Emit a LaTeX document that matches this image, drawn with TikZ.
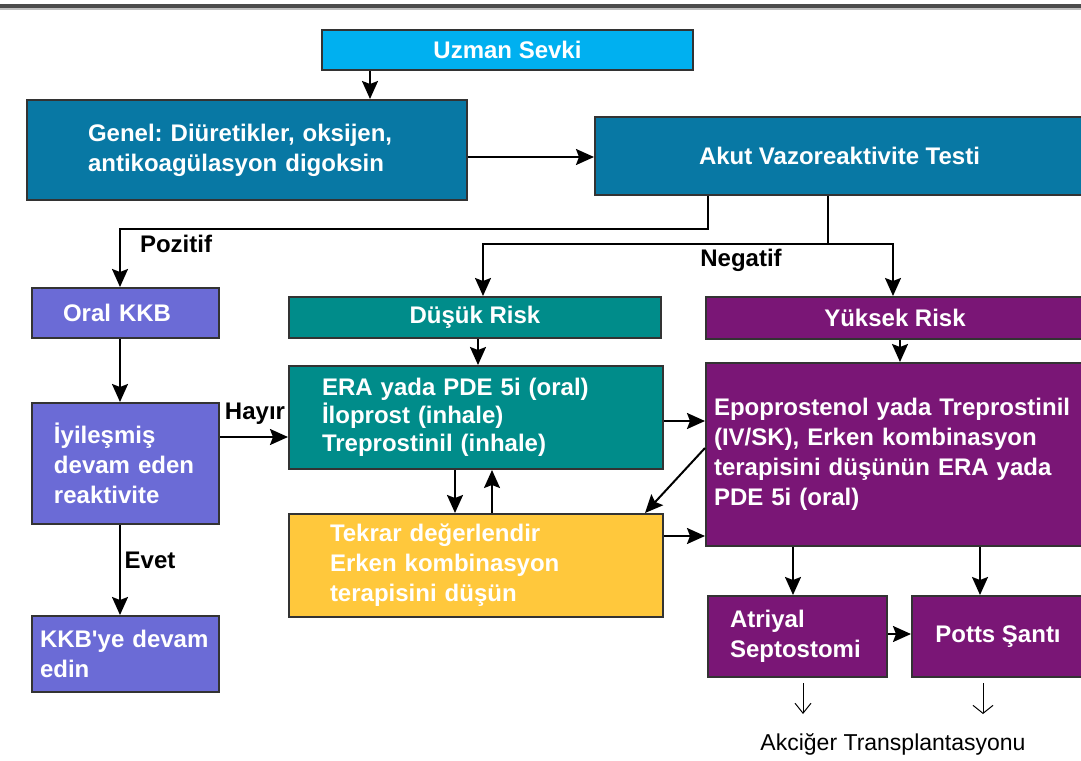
\documentclass[tikz,border=0pt]{standalone}
\usepackage{fontspec}
\setmainfont{Liberation Sans}
\usepackage{xcolor}
\usetikzlibrary{positioning,calc,arrows.meta}
\frenchspacing

\definecolor{uzmanblue}{RGB}{0,176,240}
\definecolor{genelblue}{RGB}{8,120,164}
\definecolor{kkbblue}{RGB}{107,107,214}
\definecolor{riskteal}{RGB}{0,140,138}
\definecolor{tekraryellow}{RGB}{255,200,60}
\definecolor{riskpurple}{RGB}{122,22,118}

\begin{document}
\begin{tikzpicture}[x=0.5pt, y=-0.5pt, auto,
        block/.style={rectangle, draw=black!80, line width=1pt, text=white, align=left, inner ysep=0pt,
            font=\fontsize{12}{15}\selectfont\bfseries},
        line/.style={draw, -{Stealth[length=9pt,width=8pt,inset=1.5pt]}, line width=1pt},
        tag/.style={font=\fontsize{12}{14}\selectfont\bfseries}]
        \useasboundingbox (0,0) rectangle (1081,760);
        \clip (0,0) rectangle (1081,760);
        \draw [line width=2pt, black!70] (0,5.5) -- (1081,5.5);
        \draw [line width=0.6pt, black!25] (0,9) -- (1081,9);

        \node [block, fill=uzmanblue, minimum width=185.5pt, minimum height=20pt] (uzman) at (507.5,50) {Uzman Sevki};
        \node [block, fill=genelblue, text width=159pt, inner xsep=30.5pt, minimum height=50pt] (genel) at (247,150) {Genel: Diüretikler, oksijen,\\antikoagülasyon digoksin};
        \node [block, fill=genelblue, minimum width=244.5pt, minimum height=39pt] (akut) at (839.5,156) {Akut Vazoreaktivite Testi};

        \node [block, fill=kkbblue, text width=62.5pt, inner xsep=15.5pt, minimum height=25pt] (oral) at (125.5,313) {Oral KKB};
        \node [block, fill=kkbblue, text width=71.5pt, inner xsep=11pt, minimum height=60.5pt] (iyi) at (125.5,463.5) {İyileşmiş\\devam eden\\reaktivite};
        \node [block, fill=kkbblue, text width=85.5pt, inner xsep=4pt, minimum height=38pt] (kkb) at (125.5,654) {KKB\textquotesingle ye devam\\edin};

        \node [block, fill=riskteal, minimum width=186pt, minimum height=20.5pt] (dusuk) at (475,317.5) {Düşük Risk};
        \node [block, fill=riskteal, text width=154pt, inner xsep=16.5pt, minimum height=51.5pt,
            font=\fontsize{12}{14}\selectfont\bfseries] (era) at (476,417.5) {ERA yada PDE 5i (oral)\\İloprost (inhale)\\Treprostinil (inhale)};
        \node [block, fill=tekraryellow, text width=146pt, inner xsep=20.5pt, minimum height=51.5pt] (tekrar) at (476,565.5) {Tekrar değerlendir\\Erken kombinasyon\\terapisini düşün};

        \node [block, fill=riskpurple, minimum width=189pt, minimum height=21pt] (yuksek) at (895,318) {Yüksek Risk};
        \node [block, fill=riskpurple, text width=181pt, inner xsep=4pt, minimum height=91.5pt] (epo) at (895,454.5) {Epoprostenol yada Treprostinil\\(IV/SK), Erken kombinasyon\\terapisini düşünün ERA yada\\PDE 5i (oral)};
        \node [block, fill=riskpurple, text width=67.5pt, inner xsep=11pt, minimum height=40.5pt] (atr) at (797.5,636.5) {Atriyal\\Septostomi};
        \node [block, fill=riskpurple, minimum width=86pt, minimum height=40.5pt] (potts) at (998,636.5) {Potts Şantı};

        \path [line] (uzman.south -| 370,0) -- (genel.north -| 370,0);
        \path [line] (genel.east |- 0,157) -- (akut.west |- 0,157);

        % vazoreaktivite sonucu
        \path [line] (akut.south -| 708,0) |- (120,229) -- (oral.north -| 120,0);
        \path [line] (akut.south -| 828,0) |- (483,244) -- (dusuk.north -| 483,0);
        \path [line] (828,244) -| (yuksek.north -| 893,0);
        \node [tag] (pozitif) at (176,244) {Pozitif};
        \node [tag] (negatif) at (741,260) {Negatif};

        \path [line] (oral.south -| 120,0) -- (iyi.north -| 120,0);
        \path [line] (iyi.south -| 120,0) -- (kkb.north -| 120,0);
        \node [tag] (evet) at (150,560) {Evet};
        \path [line] (iyi.east |- 0,437) -- (era.west |- 0,437);
        \node [tag] (hayir) at (255,414) {Hayır};

        \path [line] (dusuk.south -| 478,0) -- (era.north -| 478,0);
        \path [line] (era.south -| 455,0) -- (tekrar.north -| 455,0);
        \path [line] (tekrar.north -| 492,0) -- (era.south -| 492,0);
        \path [line] (era.east |- 0,421) -- (epo.west |- 0,421);
        \path [line] (epo.west |- 0,448) -- (tekrar.north -| 645,0);
        \path [line] (tekrar.east |- 0,536) -- (epo.west |- 0,536);

        \path [line] (yuksek.south -| 900,0) -- (epo.north -| 900,0);
        \path [line] (epo.south -| 793,0) -- (atr.north -| 793,0);
        \path [line] (epo.south -| 980,0) -- (potts.north -| 980,0);
        \path [line] (atr.east |- 0,634) -- (potts.west |- 0,634);

        % transplantasyon
        \node [font=\fontsize{11.5}{14}\selectfont] (akciger) at (893,744) {Akciğer Transplantasyonu};
        \coordinate (tx1) at (803,714);
        \coordinate (tx2) at (983,714);
        \draw [-{Straight Barb[length=5pt,width=8pt]}, line width=0.5pt] (atr.south -| 803,0) ++(0,5) -- (tx1);
        \draw [-{Straight Barb[length=4pt,width=10pt]}, line width=0.5pt] (potts.south -| 983,0) ++(0,5) -- (tx2);
    \end{tikzpicture}
\end{document}
